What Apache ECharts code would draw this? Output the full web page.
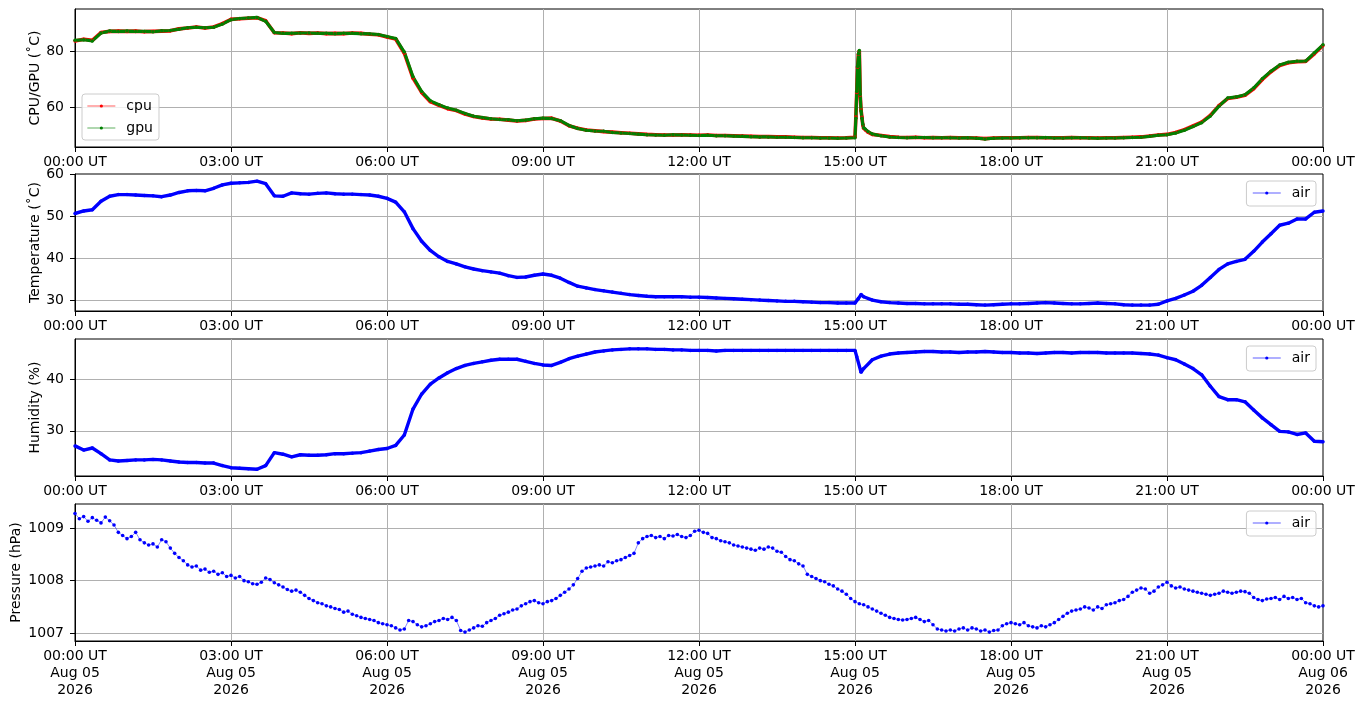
<!DOCTYPE html>
<html>
<head>
<meta charset="utf-8">
<script src="https://cdn.jsdelivr.net/npm/echarts@6/dist/echarts.min.js"></script>
<style>
html, body { margin: 0; padding: 0; background: #fff; }
#main { width: 1364px; height: 707px; }
</style>
</head>
<body>
<div id="main"></div>
<script>
// tick labels for the x axes (one every 3 hours)
var timeLabels = ['00:00 UT', '03:00 UT', '06:00 UT', '09:00 UT', '12:00 UT', '15:00 UT', '18:00 UT', '21:00 UT', '00:00 UT'];
var dateLabels = ['Aug 05', 'Aug 05', 'Aug 05', 'Aug 05', 'Aug 05', 'Aug 05', 'Aug 05', 'Aug 05', 'Aug 06'];
var yearLabels = ['2026', '2026', '2026', '2026', '2026', '2026', '2026', '2026', '2026'];

// cpu / gpu temperature, every 10 minutes from 00:00
var cpu = [
  83.6, 84.2, 83.8, 86.6, 87.0, 87.1,
  87.0, 87.1, 86.9, 87.0, 87.1, 87.2,
  87.9, 88.2, 88.6, 88.2, 88.6, 89.8,
  91.3, 91.5, 91.7, 91.9, 90.8, 86.5,
  86.4, 86.2, 86.5, 86.3, 86.4, 86.2,
  86.3, 86.2, 86.4, 86.3, 86.0, 85.8,
  85.0, 84.3, 79.2, 70.3, 65.2, 61.9,
  60.6, 59.4, 58.7, 57.5, 56.6, 56.1,
  55.7, 55.6, 55.3, 55.0, 55.2, 55.7,
  55.9, 56.0, 55.0, 53.3, 52.4, 51.8,
  51.5, 51.2, 51.0, 50.8, 50.6, 50.4,
  50.2, 50.1, 50.0, 50.0, 50.1, 50.0,
  49.9, 50.0, 49.8, 49.8, 49.7, 49.6,
  49.5, 49.4, 49.4, 49.3, 49.3, 49.2,
  49.1, 49.1, 49.0, 49.0, 48.9, 49.0,
  49.2, 52.4, 50.2, 49.8, 49.4, 49.2,
  49.1, 49.2, 49.0, 49.1, 49.0, 49.1,
  49.0, 49.0, 48.9, 48.7, 48.9, 49.0,
  49.0, 49.0, 49.1, 49.1, 49.0, 49.0,
  49.0, 49.1, 49.0, 49.0, 48.9, 49.0,
  49.0, 49.1, 49.2, 49.3, 49.6, 50.0,
  50.2, 50.9, 51.9, 53.2, 54.6, 57.0,
  60.5, 63.0, 63.5, 64.2, 66.5, 69.8,
  72.6, 74.8, 75.8, 76.2, 76.3, 79.0,
  82.0
];
var gpu = [
  83.8, 84.0, 83.6, 86.4, 87.1, 87.0,
  87.1, 87.0, 87.0, 86.9, 87.2, 87.3,
  87.8, 88.3, 88.5, 88.3, 88.5, 89.6,
  91.2, 91.6, 91.8, 92.0, 90.6, 86.6,
  86.3, 86.3, 86.4, 86.4, 86.3, 86.3,
  86.2, 86.3, 86.3, 86.2, 86.1, 85.9,
  85.2, 84.5, 79.6, 70.8, 65.5, 62.2,
  60.8, 59.6, 58.8, 57.7, 56.7, 56.2,
  55.8, 55.5, 55.4, 55.1, 55.3, 55.8,
  56.0, 55.9, 55.1, 53.4, 52.3, 51.7,
  51.4, 51.3, 50.9, 50.7, 50.5, 50.3,
  50.1, 50.0, 49.9, 50.1, 50.0, 49.9,
  49.8, 49.9, 49.7, 49.7, 49.6, 49.5,
  49.4, 49.3, 49.3, 49.2, 49.2, 49.1,
  49.0, 49.0, 48.9, 48.9, 48.8, 48.9,
  49.0, 52.6, 50.3, 49.7, 49.3, 49.1,
  49.0, 49.1, 49.1, 49.0, 49.0, 49.0,
  48.9, 49.0, 48.8, 48.6, 48.8, 48.9,
  48.9, 49.0, 49.0, 49.0, 49.1, 48.9,
  48.9, 49.0, 49.0, 48.9, 48.8, 48.9,
  48.9, 49.0, 49.1, 49.2, 49.5, 49.9,
  50.1, 50.7, 51.7, 53.0, 54.4, 56.8,
  60.3, 63.2, 63.6, 64.4, 66.8, 70.1,
  72.8, 75.0, 76.0, 76.3, 76.4, 79.3,
  82.2
];
// the short load spike just after 15:00, minute by minute
var spikeMinutes = [901, 902, 903, 904, 905, 906, 907, 908, 909, 912, 915];
var cpuSpike = [56.4, 65.2, 74.2, 78.8, 80.0, 64.2, 58.9, 56.3, 53.6, 51.8, 51.0];
var gpuSpike = [56.0, 65.5, 74.5, 79.0, 80.2, 64.5, 58.6, 56.0, 53.8, 52.0, 51.2];

// air temperature, every 10 minutes
var airTemp = [
  50.6, 51.2, 51.5, 53.5, 54.7, 55.1,
  55.1, 55.0, 54.9, 54.8, 54.6, 55.0,
  55.6, 56.0, 56.1, 56.0, 56.6, 57.4,
  57.8, 57.9, 58.0, 58.3, 57.7, 54.8,
  54.7, 55.5, 55.3, 55.2, 55.4, 55.5,
  55.3, 55.2, 55.2, 55.1, 55.0, 54.7,
  54.2, 53.3, 51.0, 47.0, 44.0, 41.8,
  40.3, 39.2, 38.6, 37.9, 37.4, 37.0,
  36.7, 36.4, 35.8, 35.4, 35.5, 35.9,
  36.2, 35.9, 35.2, 34.2, 33.3, 32.9,
  32.5, 32.2, 31.9, 31.6, 31.3, 31.1,
  30.9, 30.8, 30.8, 30.8, 30.8, 30.7,
  30.7, 30.6, 30.5, 30.4, 30.3, 30.2,
  30.1, 30.0, 29.9, 29.8, 29.7, 29.7,
  29.6, 29.5, 29.4, 29.4, 29.3, 29.3,
  29.3, 30.8, 30.0, 29.6, 29.4, 29.3,
  29.2, 29.2, 29.1, 29.1, 29.1, 29.1,
  29.0, 29.0, 28.9, 28.8, 28.9, 29.0,
  29.1, 29.1, 29.2, 29.3, 29.4, 29.3,
  29.2, 29.1, 29.1, 29.2, 29.3, 29.2,
  29.1, 28.9, 28.8, 28.8, 28.8, 29.0,
  29.8, 30.4, 31.2, 32.1, 33.5, 35.4,
  37.3, 38.6, 39.2, 39.7, 41.6, 43.8,
  45.8, 47.8, 48.3, 49.3, 49.3, 50.9,
  51.2
];
var tempSpikeMinutes = [904, 907];
var tempSpike = [30.4, 31.3];

// relative humidity, every 10 minutes
var humidity = [
  27.1, 26.3, 26.7, 25.6, 24.4, 24.2,
  24.3, 24.4, 24.4, 24.5, 24.4, 24.2,
  24.0, 23.9, 23.9, 23.8, 23.8, 23.3,
  22.9, 22.8, 22.7, 22.6, 23.3, 25.8,
  25.5, 25.0, 25.4, 25.3, 25.3, 25.4,
  25.6, 25.6, 25.7, 25.8, 26.1, 26.4,
  26.6, 27.2, 29.2, 34.2, 37.1, 39.0,
  40.2, 41.2, 42.0, 42.6, 43.0, 43.3,
  43.6, 43.8, 43.8, 43.8, 43.4, 43.0,
  42.7, 42.6, 43.2, 43.9, 44.4, 44.8,
  45.2, 45.4, 45.6, 45.7, 45.8, 45.8,
  45.8, 45.7, 45.7, 45.6, 45.6, 45.5,
  45.5, 45.5, 45.4, 45.5, 45.5, 45.5,
  45.5, 45.5, 45.5, 45.5, 45.5, 45.5,
  45.5, 45.5, 45.5, 45.5, 45.5, 45.5,
  45.5, 42.0, 43.7, 44.4, 44.8, 45.0,
  45.1, 45.2, 45.3, 45.3, 45.2, 45.2,
  45.1, 45.2, 45.2, 45.3, 45.2, 45.1,
  45.1, 45.0, 45.0, 44.9, 45.0, 45.1,
  45.1, 45.0, 45.1, 45.1, 45.1, 45.0,
  45.0, 45.0, 45.0, 44.9, 44.8, 44.6,
  44.1, 43.7, 42.9, 42.0, 40.8, 38.6,
  36.6, 36.0, 36.0, 35.6, 34.0, 32.5,
  31.2, 29.9, 29.8, 29.3, 29.6, 28.0,
  27.9
];
var humSpikeMinutes = [902, 907];
var humSpike = [44.3, 41.3];

// air pressure, every 5 minutes
var pressure = [
  1009.28, 1009.18, 1009.22, 1009.13, 1009.20, 1009.15, 1009.10, 1009.21, 1009.14, 1009.06, 1008.92, 1008.86,
  1008.80, 1008.84, 1008.92, 1008.78, 1008.72, 1008.68, 1008.70, 1008.64, 1008.78, 1008.74, 1008.62, 1008.52,
  1008.44, 1008.38, 1008.30, 1008.26, 1008.28, 1008.20, 1008.22, 1008.16, 1008.18, 1008.12, 1008.15, 1008.08,
  1008.10, 1008.05, 1008.08, 1008.00, 1007.98, 1007.94, 1007.93, 1007.97, 1008.05, 1008.02, 1007.96, 1007.92,
  1007.88, 1007.83, 1007.80, 1007.82, 1007.78, 1007.72, 1007.66, 1007.62, 1007.58, 1007.56, 1007.52, 1007.50,
  1007.47, 1007.45, 1007.40, 1007.42, 1007.36, 1007.33, 1007.30, 1007.28, 1007.26, 1007.24, 1007.20, 1007.18,
  1007.16, 1007.14, 1007.10, 1007.06, 1007.08, 1007.24, 1007.22, 1007.16, 1007.12, 1007.14, 1007.18, 1007.22,
  1007.24, 1007.28, 1007.26, 1007.30, 1007.24, 1007.05, 1007.02, 1007.06, 1007.10, 1007.14, 1007.13, 1007.20,
  1007.24, 1007.28, 1007.34, 1007.37, 1007.40, 1007.44, 1007.46, 1007.52, 1007.56, 1007.60, 1007.62, 1007.58,
  1007.56, 1007.60, 1007.62, 1007.66, 1007.72, 1007.78, 1007.84, 1007.92, 1008.04, 1008.18, 1008.24, 1008.26,
  1008.28, 1008.30, 1008.28, 1008.36, 1008.34, 1008.38, 1008.40, 1008.44, 1008.48, 1008.52, 1008.72, 1008.80,
  1008.84, 1008.86, 1008.82, 1008.84, 1008.80, 1008.86, 1008.85, 1008.88, 1008.84, 1008.82, 1008.86, 1008.94,
  1008.96, 1008.92, 1008.90, 1008.82, 1008.80, 1008.76, 1008.74, 1008.72, 1008.68, 1008.66, 1008.64, 1008.62,
  1008.60, 1008.58, 1008.62, 1008.60, 1008.64, 1008.62, 1008.56, 1008.54, 1008.46, 1008.40, 1008.38, 1008.32,
  1008.28, 1008.12, 1008.08, 1008.04, 1008.00, 1007.98, 1007.93, 1007.90, 1007.84, 1007.80, 1007.74, 1007.66,
  1007.60, 1007.56, 1007.54, 1007.50, 1007.46, 1007.42, 1007.38, 1007.34, 1007.30, 1007.28, 1007.26, 1007.25,
  1007.26, 1007.28, 1007.30, 1007.26, 1007.22, 1007.24, 1007.16, 1007.08, 1007.06, 1007.04, 1007.06, 1007.04,
  1007.08, 1007.10, 1007.06, 1007.10, 1007.08, 1007.04, 1007.06, 1007.02, 1007.05, 1007.06, 1007.14, 1007.18,
  1007.20, 1007.18, 1007.16, 1007.20, 1007.14, 1007.12, 1007.10, 1007.14, 1007.12, 1007.16, 1007.20, 1007.26,
  1007.32, 1007.38, 1007.42, 1007.44, 1007.46, 1007.50, 1007.48, 1007.44, 1007.50, 1007.47, 1007.54, 1007.56,
  1007.58, 1007.62, 1007.64, 1007.70, 1007.78, 1007.82, 1007.86, 1007.84, 1007.76, 1007.80, 1007.88, 1007.92,
  1007.97, 1007.90, 1007.86, 1007.88, 1007.84, 1007.82, 1007.80, 1007.78, 1007.76, 1007.74, 1007.72, 1007.74,
  1007.76, 1007.80, 1007.78, 1007.76, 1007.78, 1007.80, 1007.79, 1007.76, 1007.68, 1007.64, 1007.62, 1007.65,
  1007.66, 1007.68, 1007.64, 1007.70, 1007.66, 1007.68, 1007.64, 1007.66, 1007.58, 1007.56, 1007.52, 1007.50,
  1007.52
];

var FONT = 'DejaVu Sans';

// [minute, value] pairs on a regular grid, with optional extra samples merged in
function series(vals, step, extraMin, extraVals) {
    var d = vals.map(function (v, i) { return [i * step, v]; });
    if (extraMin) {
        extraMin.forEach(function (m, i) { d.push([m, extraVals[i]]); });
        d.sort(function (a, b) { return a[0] - b[0]; });
    }
    return d;
}

var grids = [
    {top: 9, height: 138},
    {top: 174, height: 137},
    {top: 339, height: 137},
    {top: 504, height: 137}
];

function xAx(i, withDate) {
    return {
        type: 'value', gridIndex: i, min: 0, max: 1440, interval: 180,
        axisLine: {show: true, onZero: false, lineStyle: {color: '#000', width: 1}},
        axisTick: {show: true, length: 5, lineStyle: {color: '#000', width: 1}},
        axisLabel: {
            color: '#000', fontSize: 14, fontFamily: FONT, margin: 7, lineHeight: 17,
            showMinLabel: true, showMaxLabel: true,
            formatter: function (v) {
                var k = Math.round(v / 180);
                var s = timeLabels[k];
                if (withDate) s += '\n' + dateLabels[k] + '\n' + yearLabels[k];
                return s;
            }
        },
        splitLine: {show: true, showMinLine: false, showMaxLine: false, lineStyle: {color: '#b0b0b0', width: 1}}
    };
}

function yAx(i, min, max, step, name, gap, showMax) {
    return {
        type: 'value', gridIndex: i, min: min, max: max,
        splitNumber: 2, minInterval: step, maxInterval: step,
        name: name, nameLocation: 'middle', nameGap: gap, nameMoveOverlap: false,
        nameTextStyle: {color: '#000', fontSize: 14, fontFamily: FONT},
        axisLine: {show: true, onZero: false, lineStyle: {color: '#000', width: 1}},
        axisTick: {show: true, length: 5, lineStyle: {color: '#000', width: 1}},
        axisLabel: {color: '#000', fontSize: 14, fontFamily: FONT, margin: 11,
            showMinLabel: false, showMaxLabel: showMax,
            formatter: function (v) { return String(Math.round(v)); }},
        splitLine: {show: true, showMinLine: false, showMaxLine: false, lineStyle: {color: '#b0b0b0', width: 1}}
    };
}

function dense(name, color, data, xi, width) {
    return {
        name: name, type: 'line', xAxisIndex: xi, yAxisIndex: xi, data: data,
        symbol: 'circle', symbolSize: 3.5, showSymbol: true,
        itemStyle: {color: color},
        lineStyle: {color: color, width: width},
        emphasis: {disabled: true}
    };
}

var legendBase = {
    orient: 'vertical', itemWidth: 28, itemHeight: 4, itemGap: 6,
    backgroundColor: 'rgba(255,255,255,0.8)', borderColor: '#cccccc', borderWidth: 1, borderRadius: 3,
    textStyle: {color: '#000', fontSize: 14, fontFamily: FONT, lineHeight: 16, padding: [0, 0, 0, 6]},
    lineStyle: {width: 0.7, opacity: 0.9},
    selectedMode: false
};

var myChart = echarts.init(document.getElementById('main'));
var option = {
    animation: false,
    backgroundColor: '#fff',
    textStyle: {fontFamily: FONT},
    grid: grids.map(function (g) {
        return {left: 75, right: 41, top: g.top, height: g.height, show: true,
            borderColor: '#000', borderWidth: 1, backgroundColor: 'transparent', outerBoundsMode: 'none'};
    }),
    xAxis: [xAx(0, false), xAx(1, false), xAx(2, false), xAx(3, true)],
    yAxis: [
        yAx(0, 45.7, 95, 20, 'CPU/GPU (\u02daC)', 33, false),
        yAx(1, 27.4, 60, 10, 'Temperature (\u02daC)', 33, true),
        yAx(2, 21.3, 47.7, 10, 'Humidity (%)', 33, false),
        yAx(3, 1006.85, 1009.46, 1, 'Pressure (hPa)', 52, false)
    ],
    legend: [
        Object.assign({}, legendBase, {left: 82, top: 94, padding: [4, 6, 4, 5], data: ['cpu', 'gpu']}),
        Object.assign({}, legendBase, {right: 48, top: 181, padding: [4, 6, 5, 6], data: ['air']}),
        Object.assign({}, legendBase, {right: 48, top: 346, padding: [4, 6, 5, 6], data: ['air']}),
        Object.assign({}, legendBase, {right: 48, top: 511, padding: [4, 6, 5, 6], data: ['air']})
    ],
    series: [
        dense('cpu', '#ff0000', series(cpu, 10, spikeMinutes, cpuSpike), 0, 3.6),
        dense('gpu', '#008000', series(gpu, 10, spikeMinutes, gpuSpike), 0, 3.1),
        dense('air', '#0000ff', series(airTemp, 10, tempSpikeMinutes, tempSpike), 1, 3.4),
        dense('air', '#0000ff', series(humidity, 10, humSpikeMinutes, humSpike), 2, 3.4),
        {
            name: 'air', type: 'line', xAxisIndex: 3, yAxisIndex: 3, data: series(pressure, 5),
            symbol: 'circle', symbolSize: 3.6, showSymbol: true,
            itemStyle: {color: '#0000ff'},
            lineStyle: {color: '#0000ff', width: 0.8, opacity: 0.6},
            emphasis: {disabled: true}
        }
    ]
};
myChart.setOption(option);
</script>
</body>
</html>
